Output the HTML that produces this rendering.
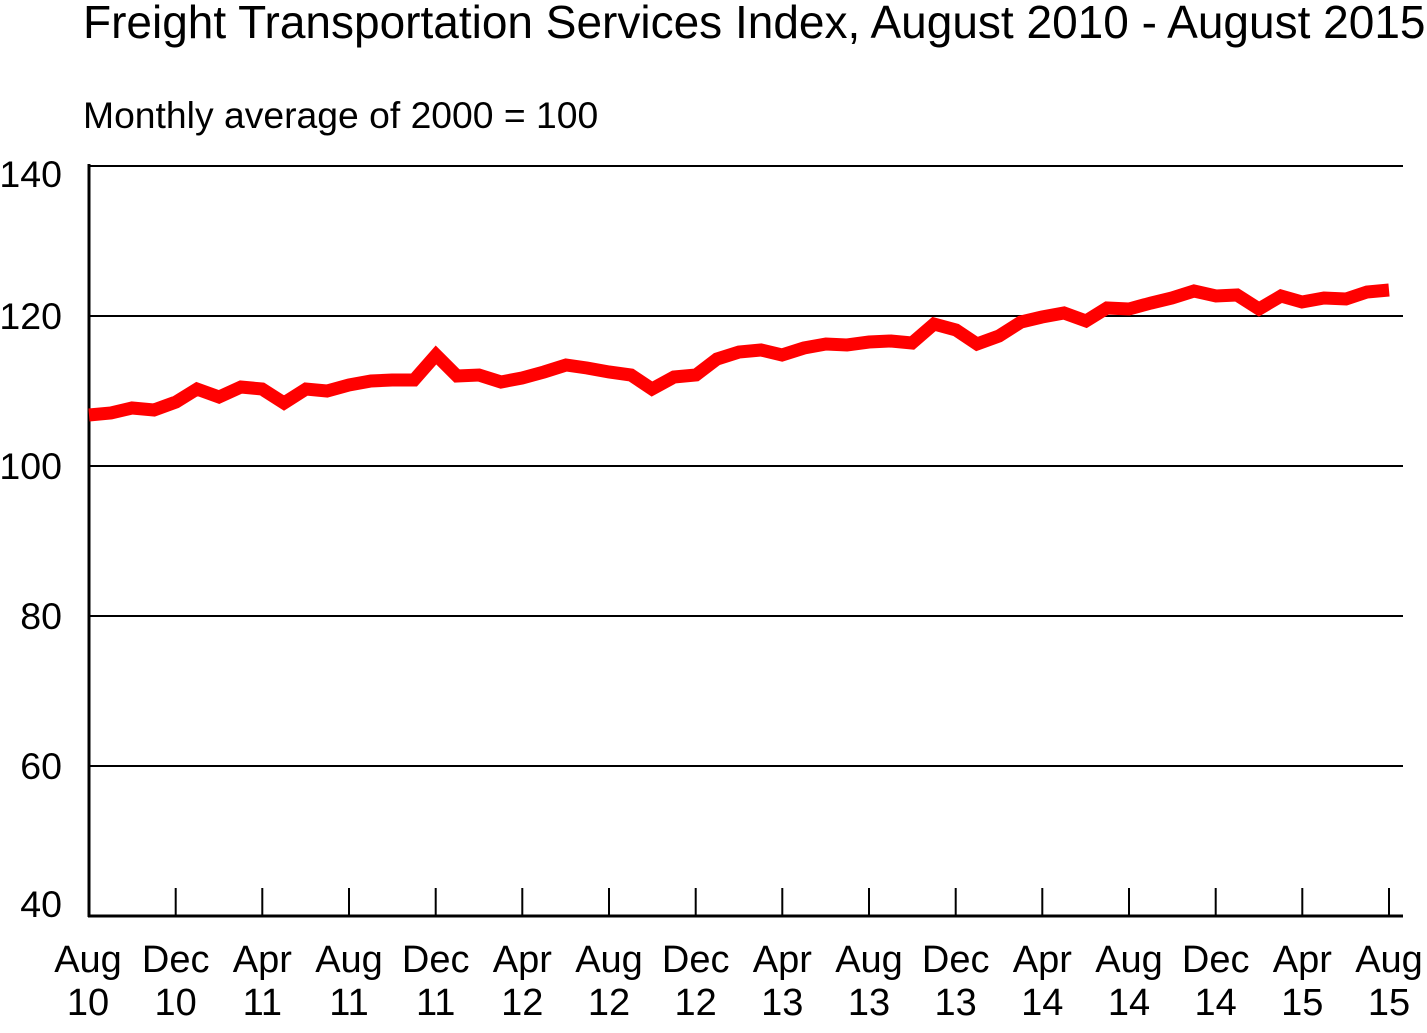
<!DOCTYPE html><html><head><style>body{margin:0;background:#fff}</style></head><body>
<svg width="1427" height="1028" xmlns="http://www.w3.org/2000/svg" font-family="Liberation Sans, sans-serif">
<rect width="1427" height="1028" fill="#fff"/>
<text x="83" y="38" font-size="46">Freight Transportation Services Index, August 2010 - August 2015</text>
<text x="83" y="128" font-size="37.3">Monthly average of 2000 = 100</text>
<g stroke="#000" stroke-width="2">
<line x1="89" y1="166" x2="1403" y2="166"/><line x1="89" y1="316" x2="1403" y2="316"/>
<line x1="89" y1="466" x2="1403" y2="466"/><line x1="89" y1="616" x2="1403" y2="616"/>
<line x1="89" y1="766" x2="1403" y2="766"/>
</g>
<line x1="89" y1="164" x2="89" y2="917" stroke="#000" stroke-width="3"/>
<line x1="88" y1="916" x2="1403" y2="916" stroke="#000" stroke-width="3"/>
<g stroke="#000" stroke-width="2">
<line x1="175.7" y1="888" x2="175.7" y2="916"/><line x1="262.3" y1="888" x2="262.3" y2="916"/><line x1="349" y1="888" x2="349" y2="916"/><line x1="435.7" y1="888" x2="435.7" y2="916"/><line x1="522.3" y1="888" x2="522.3" y2="916"/><line x1="609" y1="888" x2="609" y2="916"/><line x1="695.7" y1="888" x2="695.7" y2="916"/><line x1="782.3" y1="888" x2="782.3" y2="916"/><line x1="869" y1="888" x2="869" y2="916"/><line x1="955.7" y1="888" x2="955.7" y2="916"/><line x1="1042.3" y1="888" x2="1042.3" y2="916"/><line x1="1129" y1="888" x2="1129" y2="916"/><line x1="1215.7" y1="888" x2="1215.7" y2="916"/><line x1="1302.3" y1="888" x2="1302.3" y2="916"/><line x1="1389" y1="888" x2="1389" y2="916"/>
</g>
<g font-size="37.5" text-anchor="end">
<text x="62" y="187">140</text><text x="62" y="329">120</text><text x="62" y="479">100</text><text x="62" y="629">80</text><text x="62" y="779">60</text><text x="62" y="917">40</text>
</g>
<g font-size="38" text-anchor="middle">
<text x="88" y="972">Aug</text><text x="88" y="1015">10</text>
<text x="175.7" y="972">Dec</text><text x="175.7" y="1015">10</text>
<text x="262.3" y="972">Apr</text><text x="262.3" y="1015">11</text>
<text x="349" y="972">Aug</text><text x="349" y="1015">11</text>
<text x="435.7" y="972">Dec</text><text x="435.7" y="1015">11</text>
<text x="522.3" y="972">Apr</text><text x="522.3" y="1015">12</text>
<text x="609" y="972">Aug</text><text x="609" y="1015">12</text>
<text x="695.7" y="972">Dec</text><text x="695.7" y="1015">12</text>
<text x="782.3" y="972">Apr</text><text x="782.3" y="1015">13</text>
<text x="869" y="972">Aug</text><text x="869" y="1015">13</text>
<text x="955.7" y="972">Dec</text><text x="955.7" y="1015">13</text>
<text x="1042.3" y="972">Apr</text><text x="1042.3" y="1015">14</text>
<text x="1129" y="972">Aug</text><text x="1129" y="1015">14</text>
<text x="1215.7" y="972">Dec</text><text x="1215.7" y="1015">14</text>
<text x="1302.3" y="972">Apr</text><text x="1302.3" y="1015">15</text>
<text x="1389" y="972">Aug</text><text x="1389" y="1015">15</text>
</g>
<polyline fill="none" stroke="#f00" stroke-width="13" stroke-linejoin="miter" points="89,415 111,413 132,408 154,410 176,402 197,389 219,397 241,387 262,389 284,403 306,389 327,391 349,385 371,381 392,380 414,380 436,355 457,376 479,375 501,382 522,378 544,372 566,365 587,368 609,372 631,375 652,389 674,377 696,375 717,359 739,352 761,350 782,355 804,348 826,344 847,345 869,342 891,341 912,343 934,324 956,330 977,344 999,336 1021,322 1042,317 1064,313 1086,321 1107,308 1129,309 1151,303 1172,298 1194,291 1216,296 1237,295 1259,309 1281,296 1302,302 1324,298 1346,299 1367,292 1389,290"/>
</svg></body></html>
